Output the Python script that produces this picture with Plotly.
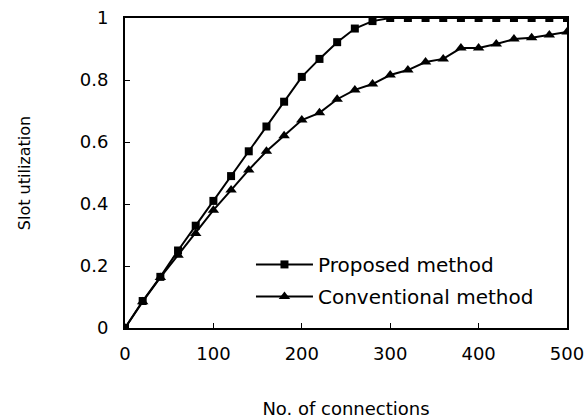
import plotly.graph_objects as go

connections = [0, 20, 40, 60, 80, 100, 120, 140, 160, 180, 200, 220, 240, 260, 280,
               300, 320, 340, 360, 380, 400, 420, 440, 460, 480, 500]
proposed = [0, 0.087, 0.165, 0.25, 0.33, 0.41, 0.49, 0.57, 0.65, 0.73, 0.81, 0.868, 0.922,
            0.966, 0.99, 1.0, 1.0, 1.0, 1.0, 1.0, 1.0, 1.0, 1.0, 1.0, 1.0, 1.0]
conventional = [0, 0.085, 0.163, 0.235, 0.305, 0.38, 0.445, 0.51, 0.57, 0.62, 0.671, 0.694,
                0.738, 0.768, 0.787, 0.816, 0.832, 0.858, 0.868, 0.903, 0.903, 0.916,
                0.932, 0.936, 0.945, 0.955]
x_ticks = [0, 100, 200, 300, 400, 500]
y_ticks = [0, 0.2, 0.4, 0.6, 0.8, 1]
y_tick_text = ["0", "0.2", "0.4", "0.6", "0.8", "1"]

font = "DejaVu Sans, Liberation Sans, Arial, sans-serif"

fig = go.Figure()
fig.add_trace(go.Scatter(x=connections, y=proposed, mode="lines+markers", name="Proposed method",
                         legendgroup="a",
                         line=dict(color="black", width=2),
                         marker=dict(symbol="square", size=8, color="black")))
fig.add_trace(go.Scatter(x=connections, y=conventional, mode="lines+markers", name="Conventional method",
                         legendgroup="b",
                         line=dict(color="black", width=2),
                         marker=dict(symbol="triangle-up", size=10, color="black")))

fig.update_layout(
    width=588, height=420,
    margin=dict(l=125, r=21, t=18, b=92),
    paper_bgcolor="white", plot_bgcolor="white",
    font=dict(family=font, color="black", size=18),
    showlegend=True,
    legend=dict(x=0.285, y=0.268, xanchor="left", yanchor="top", bgcolor="rgba(0,0,0,0)",
                font=dict(size=20), traceorder="grouped", tracegroupgap=3, itemwidth=57),
    xaxis=dict(range=[0, 500], tickvals=x_ticks, showgrid=False, automargin=False,
               zeroline=False, showline=True, mirror=True, linecolor="black", linewidth=2,
               ticks="inside", ticklen=5, tickcolor="black", tickfont=dict(size=18),
               ticklabelstandoff=8, ticklabeloverflow="allow",
               title=dict(text="No. of connections", font=dict(size=18), standoff=40)),
    yaxis=dict(range=[0, 1], tickvals=y_ticks, ticktext=y_tick_text, automargin=False,
               showgrid=False, zeroline=False, showline=True, mirror=True,
               linecolor="black", linewidth=2, ticks="inside", ticklen=5, tickcolor="black",
               tickfont=dict(size=18), ticklabelstandoff=11, ticklabeloverflow="allow",
               title=dict(text="Slot utilization", font=dict(size=16), standoff=45)),
)

fig.write_html("out.html",
               config={"displayModeBar": False},
               post_script="document.body.style.margin='0px';document.body.style.overflow='hidden';")
